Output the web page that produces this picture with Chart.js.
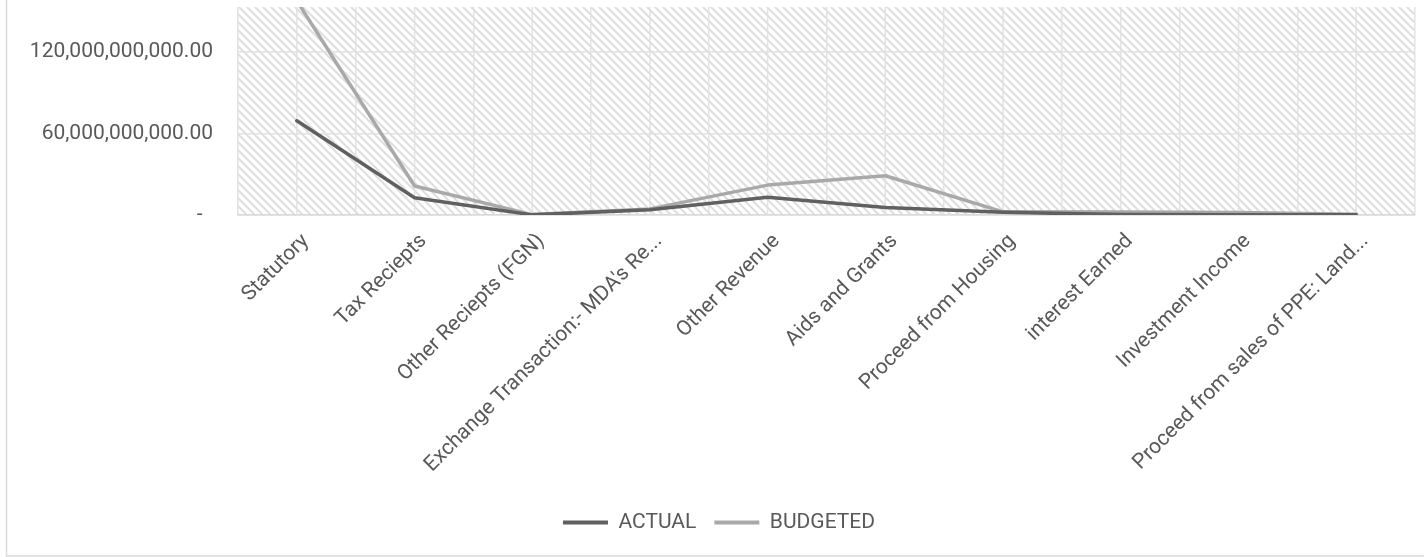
<!DOCTYPE html>
<html>
<head>
<meta charset="utf-8">
<script src="https://cdn.jsdelivr.net/npm/chart.js@4.4.1/dist/chart.umd.min.js"></script>
<style>
  html, body { margin: 0; padding: 0; background: #fff; }
  #wrap { position: relative; width: 1424px; height: 557px; }
</style>
</head>
<body>
<div id="wrap"><canvas id="revenueChart" width="1424" height="557"></canvas></div>
<script>
const categories = [
    'Statutory',
    'Tax Reciepts',
    'Other Reciepts (FGN)',
    "Exchange Transaction:- MDA's Re...",
    'Other Revenue',
    'Aids and Grants',
    'Proceed from Housing',
    'interest Earned',
    'Investment Income',
    'Proceed from sales of PPE: Land...'
];
const actualValues = [69.3e9, 12.7e9, 0.1e9, 3.8e9, 13.0e9, 5.6e9, 2.0e9, 0.3e9, 0.1e9, 0.1e9];
const budgetedValues = [157.6e9, 21.3e9, 0.3e9, 4.5e9, 22.0e9, 28.9e9, 2.3e9, 2.2e9, 1.8e9, 0.5e9];
const yTickValues = [0, 60e9, 120e9];
const yMax = 153e9;

const textColor = '#595959';
const gridColor = '#e2e2e2';
const baseFont = { family: 'Roboto', size: 21 };

const ctx = document.getElementById('revenueChart').getContext('2d');

// Excel-like "wide downward diagonal" fill for the plot area
function makeHatch() {
    const tile = document.createElement('canvas');
    tile.width = 8;
    tile.height = 8;
    const g = tile.getContext('2d');
    g.fillStyle = '#ffffff';
    g.fillRect(0, 0, 8, 8);
    g.strokeStyle = '#dedede';
    g.lineWidth = 2;
    g.beginPath();
    g.moveTo(-2, -2); g.lineTo(10, 10);
    g.moveTo(-2, 6); g.lineTo(2, 10);
    g.moveTo(6, -2); g.lineTo(10, 2);
    g.stroke();
    return ctx.createPattern(tile, 'repeat');
}
const hatch = makeHatch();

const plotDecor = {
    id: 'plotDecor',
    beforeDraw(chart) {
        const c = chart.ctx;
        const a = chart.chartArea;
        c.save();
        c.fillStyle = hatch;
        c.fillRect(a.left, a.top, a.right - a.left, a.bottom - a.top);
        // outer chart border (left and bottom visible)
        c.strokeStyle = '#d9d9d9';
        c.lineWidth = 1.5;
        c.beginPath();
        c.moveTo(6.5, 0);
        c.lineTo(6.5, 556);
        c.lineTo(chart.width, 556);
        c.stroke();
        c.restore();
    },
    beforeDatasetsDraw(chart) {
        // extra vertical gridlines at the category centres
        const c = chart.ctx;
        const a = chart.chartArea;
        const x = chart.scales.x;
        c.save();
        c.strokeStyle = gridColor;
        c.lineWidth = 1.5;
        c.beginPath();
        categories.forEach((_, i) => {
            const px = x.getPixelForTick(i);
            c.moveTo(px, a.top);
            c.lineTo(px, a.bottom);
        });
        c.stroke();
        c.restore();
    }
};

const revenueChart = new Chart(ctx, {
    type: 'line',
    data: {
        labels: categories,
        datasets: [{
            label: 'ACTUAL',
            data: actualValues,
            borderColor: '#606060',
            backgroundColor: '#606060',
            borderWidth: 3.5,
            pointRadius: 0,
            borderCapStyle: 'round',
            borderJoinStyle: 'round',
            tension: 0,
            clip: 0
        }, {
            label: 'BUDGETED',
            data: budgetedValues,
            borderColor: '#a9a9a9',
            backgroundColor: '#a9a9a9',
            borderWidth: 3.5,
            pointRadius: 0,
            borderCapStyle: 'round',
            borderJoinStyle: 'round',
            tension: 0,
            clip: 0
        }]
    },
    options: {
        responsive: false,
        animation: false,
        devicePixelRatio: 1,
        layout: { padding: { left: 23, top: 7, right: 9, bottom: 14 } },
        plugins: {
            tooltip: { enabled: false },
            legend: {
                position: 'bottom',
                labels: {
                    color: textColor,
                    font: baseFont,
                    boxWidth: 45,
                    boxHeight: 4,
                    padding: 18,
                    generateLabels(chart) {
                        return Chart.defaults.plugins.legend.labels.generateLabels(chart)
                            .map(item => Object.assign(item, { lineWidth: 0 }));
                    }
                }
            }
        },
        scales: {
            x: {
                offset: true,
                grid: { offset: true, color: gridColor, lineWidth: 1.5, drawTicks: false },
                border: { color: '#d9d9d9', width: 1.5 },
                ticks: {
                    color: textColor,
                    font: baseFont,
                    minRotation: 45,
                    maxRotation: 45,
                    autoSkip: false,
                    padding: 14,
                    labelOffset: 9
                },
                afterFit(scale) {
                    scale.height = 279;
                    scale.paddingLeft = 0;
                    scale.paddingRight = 0;
                    scale.paddingTop = 0;
                    scale.paddingBottom = 0;
                }
            },
            y: {
                min: 0,
                max: yMax,
                grid: { color: gridColor, lineWidth: 1.5, drawTicks: false },
                border: { display: false },
                ticks: {
                    color: textColor,
                    font: baseFont,
                    padding: 25,
                    callback: v => v === 0 ? '-  ' :
                        v.toLocaleString('en-US', { minimumFractionDigits: 2, maximumFractionDigits: 2 })
                },
                afterBuildTicks(scale) { scale.ticks = yTickValues.map(v => ({ value: v })); },
                afterFit(scale) {
                    scale.width = 215;
                    scale.paddingTop = 0;
                    scale.paddingBottom = 0;
                }
            }
        }
    },
    plugins: [plotDecor]
});
</script>
</body>
</html>
